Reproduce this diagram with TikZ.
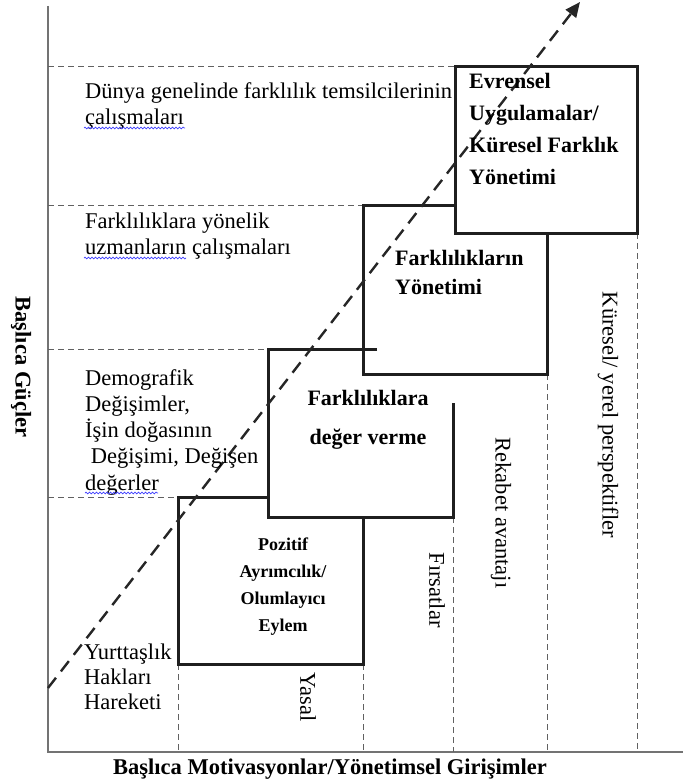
\documentclass[tikz,border=0pt]{standalone}
\usepackage{fontspec}
\setmainfont{Liberation Serif}
\usetikzlibrary{arrows.meta,decorations.pathmorphing}
\begin{document}
\begin{tikzpicture}[x=1pt,y=-1pt,
  boxline/.style={line width=3pt, draw=black!88, line join=miter},
  gridline/.style={draw=black!62, line width=1pt, dash pattern=on 6pt off 4pt},
  axisline/.style={draw=black!55, line width=1.8pt},
  diag/.style={draw=black!85, line width=2.4pt, dash pattern=on 13pt off 8pt},
  lbl/.style={font=\fontsize{22.5}{25.5}\selectfont, inner sep=0pt, align=left, anchor=base west},
  bxfont/.style={font=\bfseries\fontsize{22}{31.7}\selectfont, inner sep=0pt},
  vlbl/.style={font=\fontsize{22.5}{25}\selectfont, inner sep=0pt, rotate=-90},
  wavy/.style={draw=blue!75, line width=0.7pt, decorate, decoration={snake, amplitude=0.9pt, segment length=3.5pt}}
]
\useasboundingbox (0,0) rectangle (683,784);

% axes
\coordinate (otop) at (48,6);
\coordinate (orig) at (48,752);
\coordinate (xend) at (683,752);
\draw[axisline] (otop) -- (orig) -- (xend);

% horizontal dashed guides
\coordinate (h1a) at (48,67);  \coordinate (h1b) at (455,67);
\coordinate (h2a) at (48,205); \coordinate (h2b) at (363,205);
\coordinate (h3a) at (48,349); \coordinate (h3b) at (268,349);
\coordinate (h4a) at (48,497); \coordinate (h4b) at (178,497);
\draw[gridline] (h1a) -- (h1b);
\draw[gridline] (h2a) -- (h2b);
\draw[gridline] (h3a) -- (h3b);
\draw[gridline] (h4a) -- (h4b);

% vertical dashed guides
\coordinate (v1a) at (178,664); \coordinate (v1b) at (178,752);
\coordinate (v2a) at (363,664); \coordinate (v2b) at (363,752);
\coordinate (v3a) at (453,517); \coordinate (v3b) at (453,752);
\coordinate (v4a) at (547,374); \coordinate (v4b) at (547,752);
\coordinate (v5a) at (637,233); \coordinate (v5b) at (637,752);
\draw[gridline] (v1a) -- (v1b);
\draw[gridline] (v2a) -- (v2b);
\draw[gridline] (v3a) -- (v3b);
\draw[gridline] (v4a) -- (v4b);
\draw[gridline] (v5a) -- (v5b);

% boxes
\draw[boxline] (455,67) rectangle (637,233);
\draw[boxline] (455,205) -- (363,205) -- (363,374) -- (547,374) -- (547,233);
\draw[boxline] (377,349) -- (268,349) -- (268,517) -- (453,517) -- (453,403);
\draw[boxline] (268,497) -- (178,497) -- (178,664) -- (363,664) -- (363,517);

% diagonal dashed arrow
\coordinate (dstart) at (48,688);
\coordinate (dend) at (580,2);
\draw[diag, -{Triangle[length=15pt,width=13pt]}] (dstart) -- (dend);

% left-side texts (anchored at the baseline of the last line)
\node[lbl] (t1) at (85,124) {Dünya genelinde farklılık temsilcilerinin\\çalışmaları};
\node[lbl] (t2) at (85,254) {Farklılıklara yönelik\\uzmanların çalışmaları};
\node[lbl, font=\fontsize{22.5}{26.2}\selectfont] (t3) at (85,490) {Demografik\\Değişimler,\\İşin doğasının\\\ Değişimi, Değişen\\değerler};
\node[lbl, font=\fontsize{22.5}{25}\selectfont] (t4) at (84,709) {Yurttaşlık\\Hakları\\Hareketi};

% spell-check underlines
\coordinate (w1a) at (84,128); \coordinate (w1b) at (185,128);
\coordinate (w2a) at (84,258); \coordinate (w2b) at (186,258);
\coordinate (w3a) at (85,493); \coordinate (w3b) at (158,493);
\draw[wavy] (w1a) -- (w1b);
\draw[wavy] (w2a) -- (w2b);
\draw[wavy] (w3a) -- (w3b);

% box texts
\node[bxfont, align=left, anchor=base west] (b4) at (469,184) {Evrensel\\Uygulamalar/\\Küresel Farklık\\Yönetimi};
\node[bxfont, align=left, anchor=base west, font=\bfseries\fontsize{22}{29}\selectfont] (b3) at (395,294) {Farklılıkların\\Yönetimi};
\node[bxfont, align=center, anchor=base, font=\bfseries\fontsize{22}{39}\selectfont] (b2) at (368,444) {Farklılıklara\\değer verme};
\node[bxfont, align=center, anchor=base, font=\bfseries\fontsize{18}{27}\selectfont] (b1) at (283,631) {Pozitif\\Ayrımcılık/\\Olumlayıcı\\Eylem};

% rotated labels
\node[vlbl] (r1) at (308,697) {Yasal};
\node[vlbl] (r2) at (437,590) {Fırsatlar};
\node[vlbl] (r3) at (501,513) {Rekabet avantajı};
\node[vlbl] (r4) at (608,415) {Küresel/ yerel perspektifler};

% axis titles
\node[vlbl, font=\bfseries\fontsize{22.5}{25}\selectfont] (ay) at (21,367) {Başlıca Güçler};
\node[inner sep=0pt, font=\bfseries\fontsize{22.5}{25}\selectfont] (ax) at (330,769) {Başlıca Motivasyonlar/Yönetimsel Girişimler};
\end{tikzpicture}
\end{document}
